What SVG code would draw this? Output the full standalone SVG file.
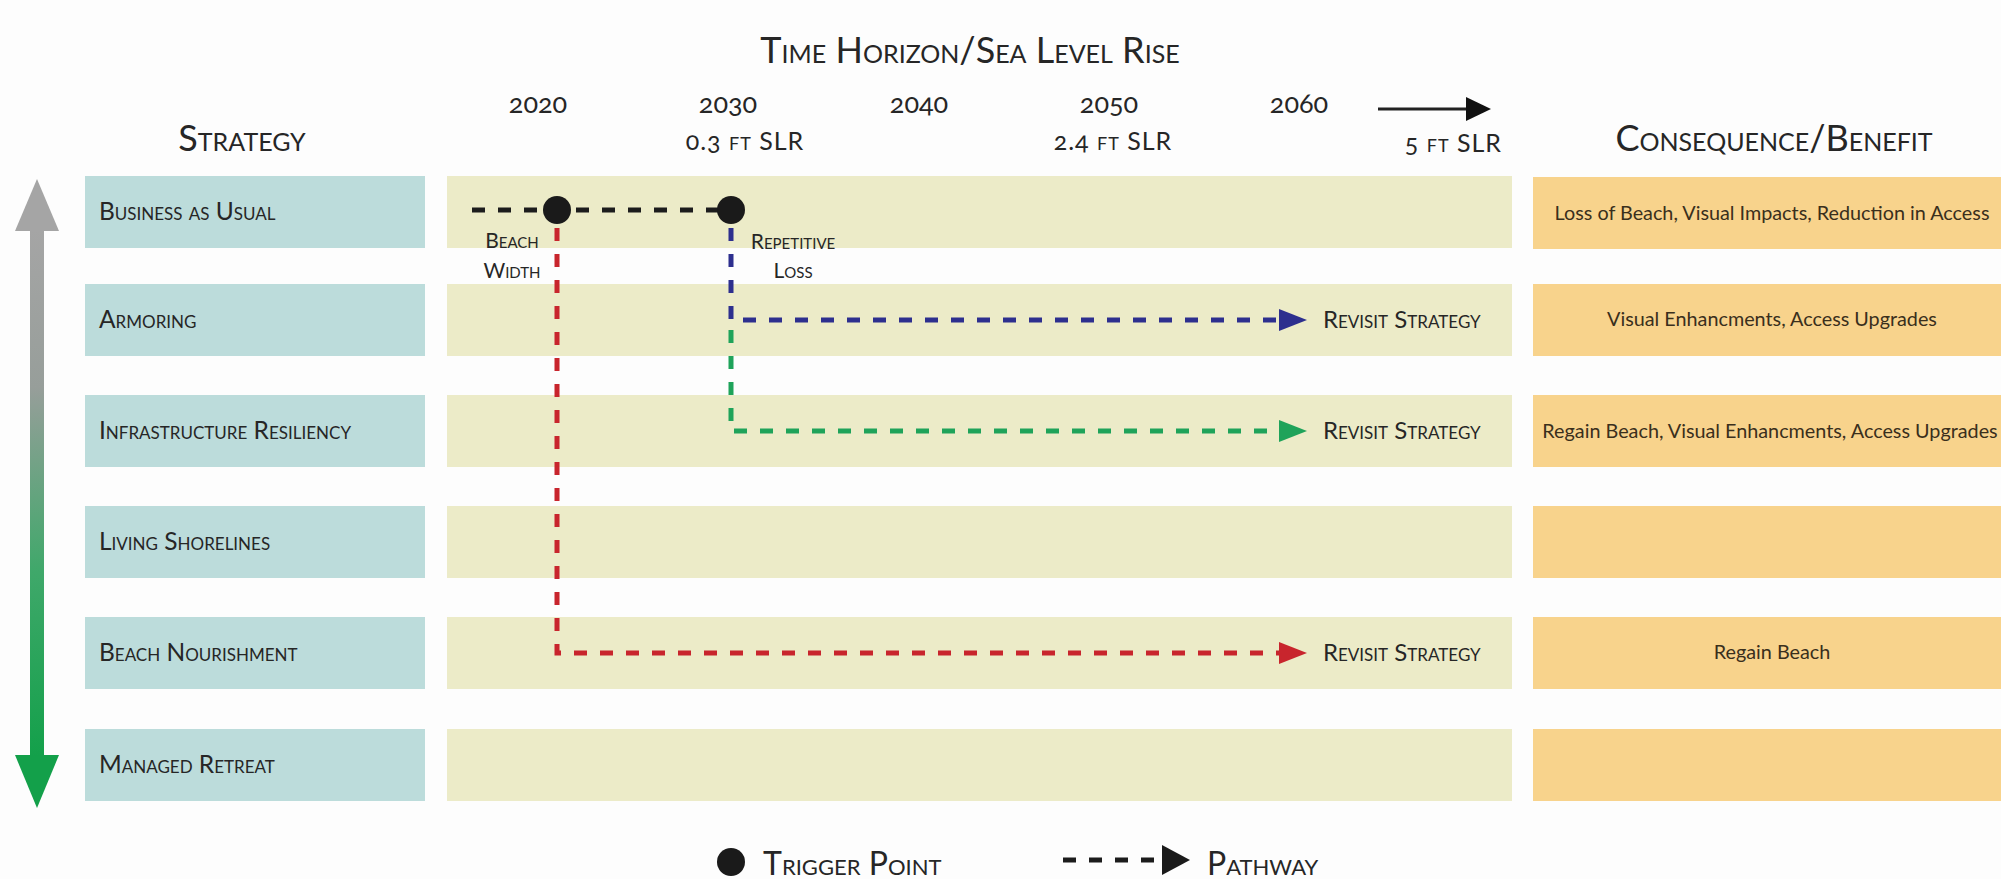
<svg xmlns="http://www.w3.org/2000/svg" width="2001" height="879" viewBox="0 0 2001 879">
<style>
text { font-family: Lato, "Liberation Sans", sans-serif; fill: #262626; }
.sc { font-variant: small-caps; }
.head { font-size: 36px; }
.year { font-size: 27px; text-anchor: middle; font-variant-numeric: oldstyle-nums; }
.slr { font-size: 25px; letter-spacing: 1px; font-variant: small-caps; font-variant-numeric: oldstyle-nums; }
.row { font-size: 24.5px; font-variant: small-caps; }
.lbl { font-size: 21px; font-variant: small-caps; text-anchor: middle; }
.rev { font-size: 24px; font-variant: small-caps; }
.cons { font-size: 19.8px; text-anchor: middle; fill: #3a2f1c; }
.leg { font-size: 32px; font-variant: small-caps; }
.strat { fill: #bcdcdb; }
.mid { fill: #ecebc8; }
.cb { fill: #f8d38c; }
.dash { fill: none; stroke-width: 5; stroke-dasharray: 13 13; }
</style>
<defs>
<linearGradient id="grad" x1="0" y1="0" x2="0" y2="1">
<stop offset="0" stop-color="#a5a5a5"/>
<stop offset="0.3" stop-color="#979e9a"/>
<stop offset="0.65" stop-color="#3fa86a"/>
<stop offset="1" stop-color="#13a04a"/>
</linearGradient>
</defs>
<rect width="2001" height="879" fill="#fdfdfd"/>

<g id="header">
<text class="head sc" x="970" y="63" text-anchor="middle">Time Horizon/Sea Level Rise</text>
<text class="head sc" x="242" y="151" text-anchor="middle">Strategy</text>
<text class="head sc" x="1774" y="151" text-anchor="middle">Consequence/Benefit</text>
<text class="year" x="538" y="113">2020</text>
<text class="year" x="728" y="113">2030</text>
<text class="year" x="919" y="113">2040</text>
<text class="year" x="1109" y="113">2050</text>
<text class="year" x="1299" y="113">2060</text>
<text class="slr" x="745" y="150" text-anchor="middle">0.3 ft SLR</text>
<text class="slr" x="1113" y="150" text-anchor="middle">2.4 ft SLR</text>
<text class="slr" x="1502" y="152" text-anchor="end">5 ft SLR</text>
<line x1="1378" y1="109" x2="1468" y2="109" stroke="#222" stroke-width="3"/>
<polygon points="1466,97 1491,109 1466,121" fill="#111"/>
</g>

<g id="scale-arrow">
<rect x="30" y="229" width="14" height="528" fill="url(#grad)"/>
<polygon points="15,231 37,179 59,231" fill="#a5a5a5"/>
<polygon points="15,755 37,808 59,755" fill="#13a04a"/>
</g>

<g id="row-business">
<rect class="strat" x="85" y="176" width="340" height="72"/>
<rect class="mid" x="447" y="176" width="1065" height="72"/>
<rect class="cb" x="1533" y="177" width="468" height="72"/>
<text class="row" x="99" y="220">Business as Usual</text>
<text class="cons" x="1772" y="220">Loss of Beach, Visual Impacts, Reduction in Access</text>
</g>
<g id="row-armoring">
<rect class="strat" x="85" y="284" width="340" height="72"/>
<rect class="mid" x="447" y="284" width="1065" height="72"/>
<rect class="cb" x="1533" y="284" width="468" height="72"/>
<text class="row" x="99" y="328">Armoring</text>
<text class="rev" x="1323" y="328">Revisit Strategy</text>
<text class="cons" x="1772" y="326">Visual Enhancments, Access Upgrades</text>
</g>
<g id="row-infrastructure">
<rect class="strat" x="85" y="395" width="340" height="72"/>
<rect class="mid" x="447" y="395" width="1065" height="72"/>
<rect class="cb" x="1533" y="395" width="468" height="72"/>
<text class="row" x="99" y="439">Infrastructure Resiliency</text>
<text class="rev" x="1323" y="439">Revisit Strategy</text>
<text class="cons" x="1770" y="438">Regain Beach, Visual Enhancments, Access Upgrades</text>
</g>
<g id="row-living">
<rect class="strat" x="85" y="506" width="340" height="72"/>
<rect class="mid" x="447" y="506" width="1065" height="72"/>
<rect class="cb" x="1533" y="506" width="468" height="72"/>
<text class="row" x="99" y="550">Living Shorelines</text>
</g>
<g id="row-beach">
<rect class="strat" x="85" y="617" width="340" height="72"/>
<rect class="mid" x="447" y="617" width="1065" height="72"/>
<rect class="cb" x="1533" y="617" width="468" height="72"/>
<text class="row" x="99" y="661">Beach Nourishment</text>
<text class="rev" x="1323" y="661">Revisit Strategy</text>
<text class="cons" x="1772" y="659">Regain Beach</text>
</g>
<g id="row-managed">
<rect class="strat" x="85" y="729" width="340" height="72"/>
<rect class="mid" x="447" y="729" width="1065" height="72"/>
<rect class="cb" x="1533" y="729" width="468" height="72"/>
<text class="row" x="99" y="773">Managed Retreat</text>
</g>

<g id="connectors">
<path class="dash" d="M472,210 H731" stroke="#1c1c1c"/>
<path class="dash" d="M557,228 V653 H1282" stroke="#c8252d"/>
<polygon points="1279,642 1307,653 1279,664" fill="#c8252d"/>
<path class="dash" d="M731,228 V320 H1282" stroke="#2d2f8e"/>
<polygon points="1279,309 1307,320 1279,331" fill="#2d2f8e"/>
<path class="dash" d="M731,330 V431 H1282" stroke="#1fa35a"/>
<polygon points="1279,420 1307,431 1279,442" fill="#1fa35a"/>
</g>

<g id="trigger-beach-width">
<circle cx="557" cy="210" r="14" fill="#1a1a1a"/>
<text class="lbl" x="512" y="248">Beach</text>
<text class="lbl" x="512" y="278">Width</text>
</g>
<g id="trigger-repetitive-loss">
<circle cx="731" cy="210" r="14" fill="#1a1a1a"/>
<text class="lbl" x="793" y="249">Repetitive</text>
<text class="lbl" x="793" y="278">Loss</text>
</g>

<g id="legend">
<circle cx="731" cy="862" r="14" fill="#1a1a1a"/>
<text class="leg" x="763" y="875">Trigger Point</text>
<path class="dash" d="M1063,860 H1165" stroke="#1c1c1c"/>
<polygon points="1162,845 1190,860 1162,875" fill="#1a1a1a"/>
<text class="leg" x="1207" y="875">Pathway</text>
</g>
</svg>
